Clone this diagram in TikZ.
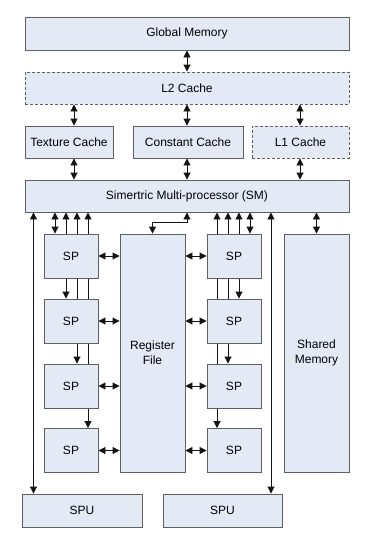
\documentclass[tikz,border=0pt]{standalone}
\usepackage{fontspec}
\setmainfont{Liberation Sans}
\usetikzlibrary{arrows.meta,backgrounds}
\definecolor{boxfill}{RGB}{227,234,246}
\definecolor{boxline}{RGB}{95,95,95}
\definecolor{wire}{RGB}{20,20,20}
\tikzset{
  blk/.style={draw=boxline, fill=boxfill, line width=0.9pt, inner sep=0pt,
    font=\fontsize{12}{14.6}\selectfont, align=center},
  dashblk/.style={blk, dash pattern=on 3pt off 2pt},
  dbl/.style={draw=wire, line width=0.9pt,
    {Triangle[length=7pt,width=7pt]}-{Triangle[length=7pt,width=7pt]}}
}
\begin{document}
\begin{tikzpicture}[x=1pt,y=-1pt]
\useasboundingbox (0,0) rectangle (368,539);

% memory hierarchy
\node[blk, minimum width=324, minimum height=33] (gm) at (187,33.5) {Global Memory};
\node[dashblk, minimum width=324, minimum height=32] (l2) at (187,88) {L2 Cache};
\node[blk, minimum width=88, minimum height=32] (tex) at (69,142) {Texture Cache};
\node[blk, minimum width=110, minimum height=32] (con) at (188,142) {Constant Cache};
\node[dashblk, minimum width=97, minimum height=32] (l1) at (300.5,142) {L1 Cache};
\node[blk, minimum width=324, minimum height=32] (sm) at (187,196) {Simertric Multi-processor (SM)};

% streaming processors, left column
\node[blk, minimum width=54, minimum height=44] (spa) at (71,256) {SP};
\node[blk, minimum width=54, minimum height=44] (spb) at (71,321) {SP};
\node[blk, minimum width=54, minimum height=44] (spc) at (71,386) {SP};
\node[blk, minimum width=54, minimum height=44] (spd) at (71,450.5) {SP};
% streaming processors, right column
\node[blk, minimum width=54, minimum height=44] (spe) at (234,256) {SP};
\node[blk, minimum width=54, minimum height=44] (spf) at (234,321) {SP};
\node[blk, minimum width=54, minimum height=44] (spg) at (234,386) {SP};
\node[blk, minimum width=54, minimum height=44] (sph) at (234,450.5) {SP};

\node[blk, minimum width=65, minimum height=238] (rf) at (152.5,353) {Register\\File};
\node[blk, minimum width=65, minimum height=238] (shm) at (316.5,353) {Shared\\Memory};

\node[blk, minimum width=120, minimum height=33] (spua) at (82,510.5) {SPU};
\node[blk, minimum width=119, minimum height=33] (spub) at (222.5,510.5) {SPU};

% x positions of the vertical wires
\coordinate (xa) at (74,0);
\coordinate (xb) at (187,0);
\coordinate (xc) at (300,0);
\coordinate (xl) at (33.5,0);
\coordinate (xr) at (271,0);
\coordinate (l1x) at (55,0);
\coordinate (l2x) at (66,0);
\coordinate (l3x) at (77,0);
\coordinate (l4x) at (88,0);
\coordinate (r1x) at (250,0);
\coordinate (r2x) at (239,0);
\coordinate (r3x) at (228,0);
\coordinate (r4x) at (217,0);

\begin{scope}[on background layer]
  \draw[dbl] (gm.south -| xb) -- (l2.north -| xb);
  \draw[dbl] (l2.south -| xa) -- (tex.north -| xa);
  \draw[dbl] (l2.south -| xb) -- (con.north -| xb);
  \draw[dbl] (l2.south -| xc) -- (l1.north -| xc);
  \draw[dbl] (tex.south -| xa) -- (sm.north -| xa);
  \draw[dbl] (con.south -| xb) -- (sm.north -| xb);
  \draw[dbl] (l1.south -| xc) -- (sm.north -| xc);

  \draw[dbl] (sm.south -| xl) -- (spua.north -| xl);
  \draw[dbl] (sm.south -| xr) -- (spub.north -| xr);
  \draw[dbl] (sm.south -| shm) -- (shm.north);
  \draw[dbl] (rf.north) -- ++(0,-11) -| (sm.south -| xb);

  \draw[dbl] (sm.south -| l1x) -- (spa.north -| l1x);
  \draw[dbl] (sm.south -| l2x) -- (spb.north -| l2x);
  \draw[dbl] (sm.south -| l3x) -- (spc.north -| l3x);
  \draw[dbl] (sm.south -| l4x) -- (spd.north -| l4x);
  \draw[dbl] (sm.south -| r1x) -- (spe.north -| r1x);
  \draw[dbl] (sm.south -| r2x) -- (spf.north -| r2x);
  \draw[dbl] (sm.south -| r3x) -- (spg.north -| r3x);
  \draw[dbl] (sm.south -| r4x) -- (sph.north -| r4x);

  \foreach \p in {spa,spb,spc,spd} \draw[dbl] (\p.east) -- (rf.west |- \p);
  \foreach \p in {spe,spf,spg,sph} \draw[dbl] (rf.east |- \p) -- (\p.west);
\end{scope}
\end{tikzpicture}
\end{document}
